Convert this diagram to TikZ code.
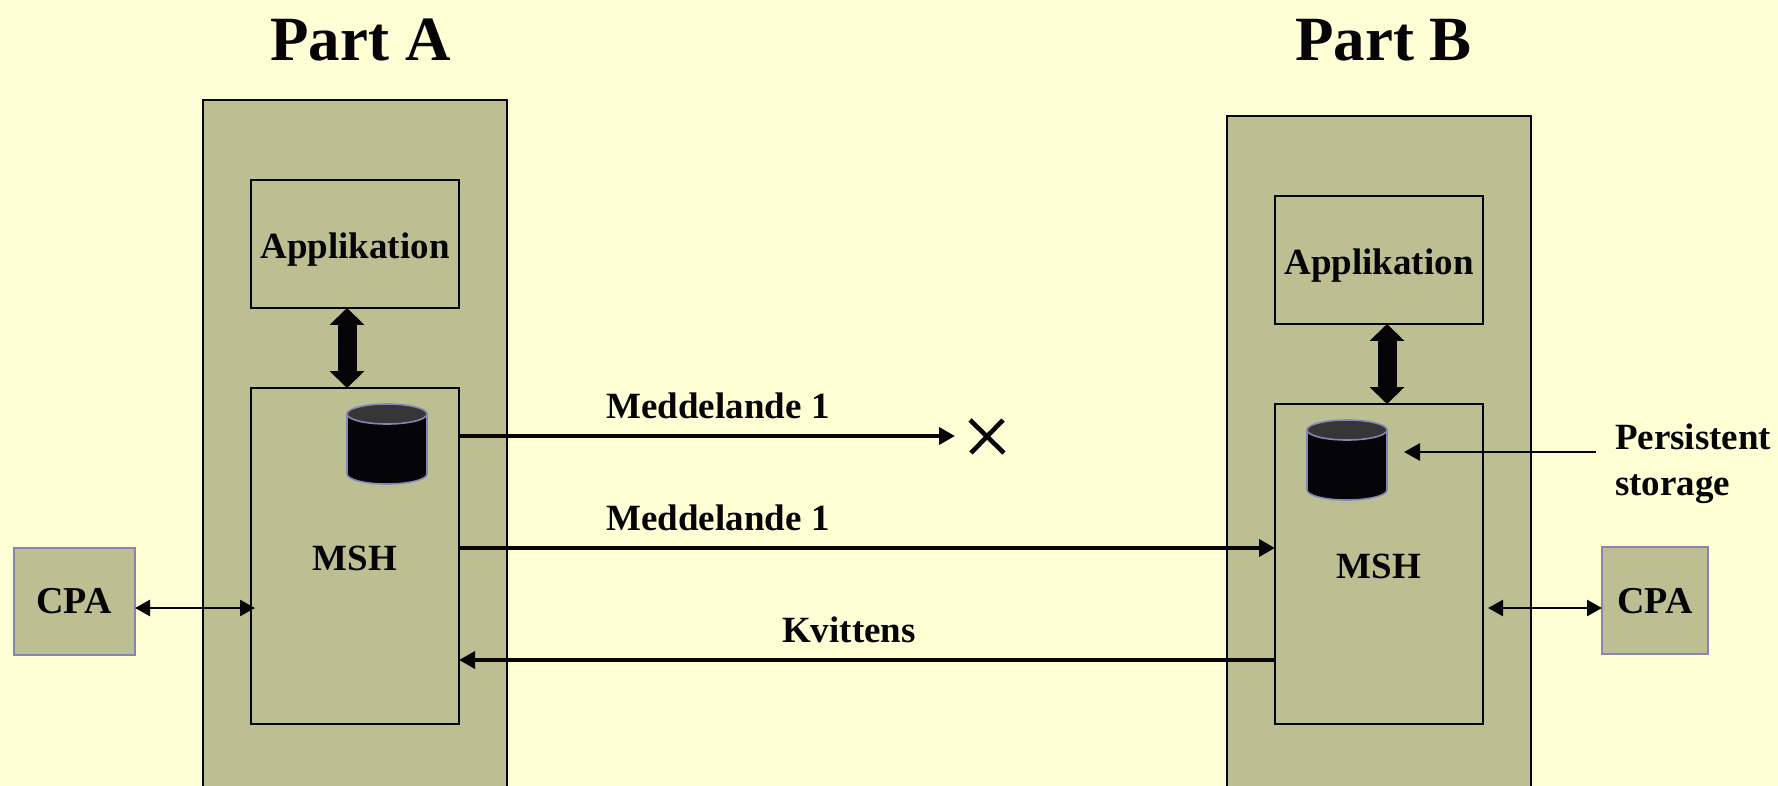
\documentclass[tikz,border=0pt]{standalone}
\usepackage{fontspec}
\setmainfont{Liberation Serif}
\usetikzlibrary{arrows.meta}
\definecolor{bgc}{HTML}{FFFFD6}
\definecolor{boxc}{HTML}{BBBF92}
\definecolor{cpac}{HTML}{8585B8}
\definecolor{inkc}{HTML}{050508}
\definecolor{topc}{HTML}{363636}
\tikzset{
 x=1pt,y=-1pt,
 every node/.style={inner sep=0pt,outer sep=0pt,text=inkc,font=\fontsize{37}{45}\selectfont\bfseries},
 box/.style={draw=inkc,line width=2pt,fill=boxc,anchor=north west},
 cpabox/.style={draw=cpac,line width=2pt,fill=boxc,anchor=north west},
 msg/.style={draw=inkc,line width=3.6pt,-{Triangle[length=16pt,width=17pt]}},
 thin link/.style={draw=inkc,line width=2.6pt,{Triangle[length=15pt,width=16pt]}-{Triangle[length=15pt,width=16pt]}},
 big link/.style={draw=inkc,line width=19pt,{Triangle[length=17pt,width=34pt]}-{Triangle[length=17pt,width=34pt]}},
 title/.style={font=\fontsize{63}{70}\selectfont\bfseries,anchor=base},
 label/.style={anchor=base},
 dbrim/.style={draw=cpac,line width=1.6pt},
 dbpic/.pic={
   \path[fill=inkc,dbrim] (-40,-30) -- (-40,30)
     .. controls (-40,35.5) and (-22,40) .. (0,40)
     .. controls (22,40) and (40,35.5) .. (40,30) -- (40,-30) -- cycle;
   \path[fill=topc,dbrim] (0,-30) ellipse [x radius=40pt,y radius=10pt];
 },
}
\begin{document}
\begin{tikzpicture}
\useasboundingbox (0,0) rectangle (1778,786);
\clip (0,0) rectangle (1778,786);
\fill[bgc] (0,0) rectangle (1778,786);
% Part A
\node[title] (titleA) at (360.5,61) {Part A};
\node[box,minimum width=304pt,minimum height=720pt] (outerA) at (203,100) {};
\node[box,minimum width=208pt,minimum height=128pt] (appA) at (251,180) {};
\node[anchor=base] (appAt) at (355,259) {Applikation};
\node[box,minimum width=208pt,minimum height=336pt] (mshA) at (251,388) {};
\node[anchor=base] (mshAt) at (355,570) {MSH};
\pic at (387,444) {dbpic};
\node[cpabox,minimum width=121pt,minimum height=107pt] (cpaA) at (14,547.5) {};
\node[anchor=base,font=\fontsize{38}{45}\selectfont\bfseries] (cpaAt) at (74,613) {CPA};
% Part B
\node[title] (titleB) at (1383.5,61) {Part B};
\node[box,minimum width=304pt,minimum height=720pt] (outerB) at (1227,116) {};
\node[box,minimum width=208pt,minimum height=128pt] (appB) at (1275,196) {};
\node[anchor=base] (appBt) at (1379,275) {Applikation};
\node[box,minimum width=208pt,minimum height=320pt] (mshB) at (1275,404) {};
\node[anchor=base] (mshBt) at (1379,578) {MSH};
\pic at (1347,460) {dbpic};
\node[cpabox,minimum width=106pt,minimum height=107pt] (cpaB) at (1602,547) {};
\node[anchor=base,font=\fontsize{38}{45}\selectfont\bfseries] (cpaBt) at (1655,613) {CPA};
% labels
\node[label] (m1) at (718,418) {Meddelande 1};
\node[label] (m2) at (718,530) {Meddelande 1};
\node[label] (kv) at (849,642) {Kvittens};
\node[anchor=base west] (ps) at (1615,449) {Persistent};
\node[anchor=base west] (st) at (1615,495) {storage};
% free ends
\coordinate (lost) at (955,436);
\coordinate (a1) at (459,436);
\coordinate (a2) at (459,548);
\coordinate (b2) at (1275,548);
\coordinate (b3) at (1275,660);
\coordinate (a3) at (459,660);
\coordinate (psfrom) at (1596,452);
\coordinate (psto) at (1404,452);
\coordinate (cpaAr) at (135,608);
\coordinate (mshAl) at (255,608);
\coordinate (cpaBl) at (1602,608);
\coordinate (mshBr) at (1488,608);
\coordinate (bigAt) at (347,308);
\coordinate (bigAb) at (347,388);
\coordinate (bigBt) at (1387,324);
\coordinate (bigBb) at (1387,404);
% connectors
\draw[big link] (bigAt) -- (bigAb);
\draw[big link] (bigBt) -- (bigBb);
\draw[msg] (a1) -- (lost);
\draw[msg] (a2) -- (b2);
\draw[msg] (b3) -- (a3);
\draw[msg,line width=2.8pt] (psfrom) -- (psto);
\draw[thin link] (cpaAr) -- (mshAl);
\draw[thin link] (mshBr) -- (cpaBl);
% cross
\coordinate (xa) at (970,420);
\coordinate (xb) at (1004,453);
\coordinate (xc) at (1003,420);
\coordinate (xd) at (971,453);
\draw[draw=inkc,line width=4.6pt] (xa) -- (xb) (xc) -- (xd);
\end{tikzpicture}
\end{document}
